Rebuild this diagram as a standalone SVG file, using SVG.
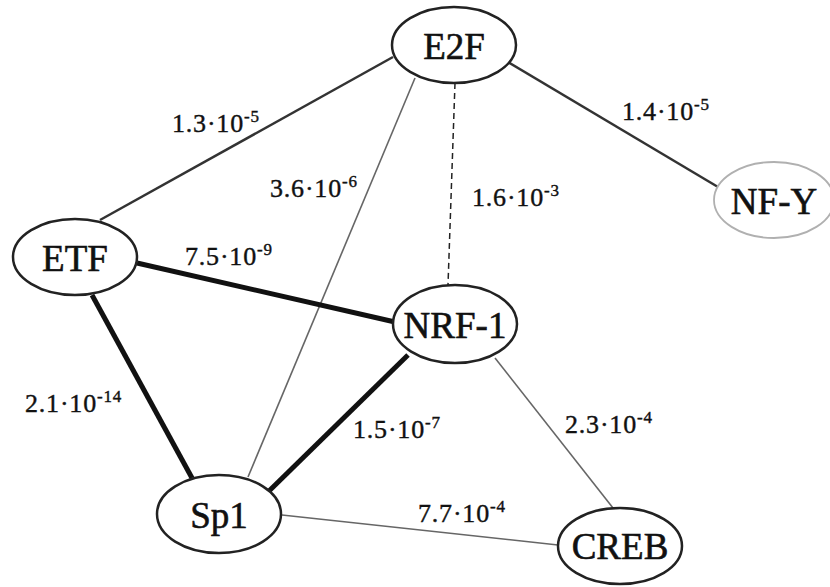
<svg xmlns="http://www.w3.org/2000/svg" width="830" height="587" viewBox="0 0 830 587">
<style>
.node ellipse{fill:#fff;stroke:#222;stroke-width:2.5}
.node text{font-family:"Liberation Serif","Times New Roman",serif;font-size:37px;fill:#111;stroke:#111;stroke-width:0.6;text-anchor:middle}
.lbl{font-family:"Liberation Serif","Times New Roman",serif;font-size:26px;fill:#111;stroke:#111;stroke-width:0.4;letter-spacing:0.8px}
.sup{font-size:17px}
.thick{stroke:#111;stroke-width:5;fill:none}
.mid{stroke:#333;stroke-width:2.5;fill:none}
.thin{stroke:#666;stroke-width:1.6;fill:none}
.dash{stroke:#222;stroke-width:1.5;stroke-dasharray:6 4;fill:none}
</style>
<rect width="830" height="587" fill="#fff"/>
<g id="connectors">
<line class="mid" x1="100" y1="220" x2="393" y2="57"/>
<line class="thin" x1="415" y1="78" x2="248" y2="477"/>
<line class="dash" x1="455" y1="83" x2="448" y2="285"/>
<line class="mid" x1="508" y1="62" x2="718" y2="187"/>
<line class="thick" x1="137" y1="263" x2="395" y2="322"/>
<line class="thick" x1="92" y1="295" x2="192" y2="478"/>
<line class="thick" x1="408" y1="355" x2="268" y2="492"/>
<line class="thin" x1="495" y1="358" x2="613" y2="508"/>
<line class="thin" x1="282" y1="515" x2="558" y2="545"/>
</g>
<g id="labels">
<text class="lbl" x="172" y="132">1.3·10<tspan class="sup" dy="-10">-5</tspan></text>
<text class="lbl" x="270" y="197">3.6·10<tspan class="sup" dy="-10">-6</tspan></text>
<text class="lbl" x="472" y="206">1.6·10<tspan class="sup" dy="-10">-3</tspan></text>
<text class="lbl" x="622" y="120">1.4·10<tspan class="sup" dy="-10">-5</tspan></text>
<text class="lbl" x="185" y="265">7.5·10<tspan class="sup" dy="-10">-9</tspan></text>
<text class="lbl" x="25" y="412">2.1·10<tspan class="sup" dy="-10">-14</tspan></text>
<text class="lbl" x="353" y="438">1.5·10<tspan class="sup" dy="-10">-7</tspan></text>
<text class="lbl" x="565" y="433">2.3·10<tspan class="sup" dy="-10">-4</tspan></text>
<text class="lbl" x="418" y="522">7.7·10<tspan class="sup" dy="-10">-4</tspan></text>
</g>
<g id="E2F" class="node"><ellipse cx="454" cy="45" rx="62" ry="38"/><text x="454" y="59">E2F</text></g>
<g id="ETF" class="node"><ellipse cx="75" cy="257" rx="62" ry="38"/><text x="75" y="271">ETF</text></g>
<g id="NRF-1" class="node"><ellipse cx="455" cy="324" rx="62" ry="39"/><text x="455" y="338">NRF-1</text></g>
<g id="Sp1" class="node"><ellipse cx="219" cy="514" rx="62" ry="39"/><text x="219" y="528">Sp1</text></g>
<g id="CREB" class="node"><ellipse cx="620" cy="546" rx="62" ry="38"/><text x="620" y="559">CREB</text></g>
<g id="NF-Y" class="node"><ellipse cx="774" cy="200" rx="60" ry="38" style="stroke:#b0b0b0;stroke-width:1.8"/><text x="774" y="214">NF-Y</text></g>
</svg>
